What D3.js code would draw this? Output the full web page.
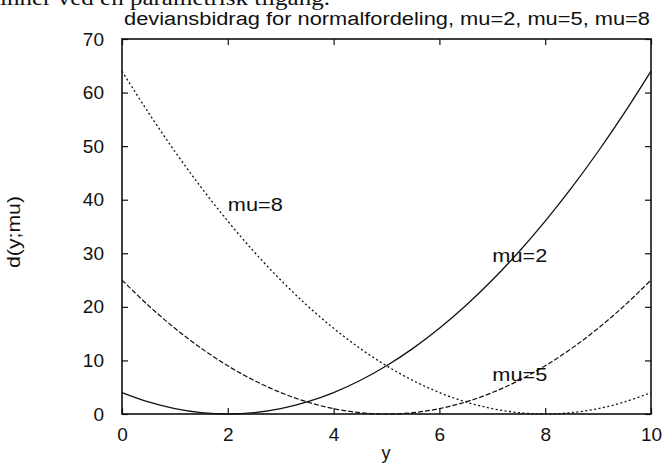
<!DOCTYPE html>
<html>
<head>
<meta charset="utf-8">
<script src="https://cdn.jsdelivr.net/npm/d3@7"></script>
<style>
  html, body { margin: 0; padding: 0; background: #fff; }
  svg { display: block; }
  text { font-family: "Liberation Sans", Arial, sans-serif; fill: #111; }
</style>
</head>
<body>
<svg id="chart" width="664" height="463"></svg>
<script>
// y values where the deviance contributions are tabulated
const yValues = [0, 0.5, 1, 1.5, 2, 2.5, 3, 3.5, 4, 4.5, 5, 5.5, 6, 6.5, 7, 7.5, 8, 8.5, 9, 9.5, 10];

// d(y;mu) for the three means
const devMu2 = [4, 2.25, 1, 0.25, 0, 0.25, 1, 2.25, 4, 6.25, 9, 12.25, 16, 20.25, 25, 30.25, 36, 42.25, 49, 56.25, 64];
const devMu5 = [25, 20.25, 16, 12.25, 9, 6.25, 4, 2.25, 1, 0.25, 0, 0.25, 1, 2.25, 4, 6.25, 9, 12.25, 16, 20.25, 25];
const devMu8 = [64, 56.25, 49, 42.25, 36, 30.25, 25, 20.25, 16, 12.25, 9, 6.25, 4, 2.25, 1, 0.25, 0, 0.25, 1, 2.25, 4];

const seriesNames = ["mu=2", "mu=5", "mu=8"];
const xTicks = [0, 2, 4, 6, 8, 10];
const yTicks = [0, 10, 20, 30, 40, 50, 60, 70];

const svg = d3.select("#chart");
const mLeft = 122, mRight = 651, mTop = 39, mBottom = 414;

const x = d3.scaleLinear().domain([0, 10]).range([mLeft, mRight]);
const y = d3.scaleLinear().domain([0, 70]).range([mBottom, mTop]);

// running text of the page above the figure, cut off by the page edge
svg.append("text")
  .attr("x", 0).attr("y", 5)
  .style("font-family", "'Liberation Serif', 'Times New Roman', serif")
  .style("font-size", "22px")
  .attr("textLength", 330).attr("lengthAdjust", "spacingAndGlyphs")
  .text("inner ved en parametrisk tilgang.");

// title
svg.append("text")
  .attr("x", 124).attr("y", 25)
  .style("font-size", "18px")
  .attr("textLength", 526).attr("lengthAdjust", "spacingAndGlyphs")
  .text("deviansbidrag for normalfordeling, mu=2, mu=5, mu=8");

// axes with inward ticks, mirrored on the opposite sides
const tickLen = 6;
svg.append("g").attr("transform", `translate(0,${mBottom})`)
  .call(d3.axisBottom(x).tickValues(xTicks).tickSize(-tickLen).tickPadding(14).tickFormat(d3.format("d")))
  .call(g => g.select(".domain").remove());
svg.append("g").attr("transform", `translate(0,${mTop})`)
  .call(d3.axisTop(x).tickValues(xTicks).tickSize(-tickLen).tickFormat(""))
  .call(g => g.select(".domain").remove());
svg.append("g").attr("transform", `translate(${mLeft},0)`)
  .call(d3.axisLeft(y).tickValues(yTicks).tickSize(-tickLen).tickPadding(18).tickFormat(d3.format("d")))
  .call(g => g.select(".domain").remove());
svg.append("g").attr("transform", `translate(${mRight},0)`)
  .call(d3.axisRight(y).tickValues(yTicks).tickSize(-tickLen).tickFormat(""))
  .call(g => g.select(".domain").remove());

svg.selectAll(".tick line").attr("stroke", "#111").attr("stroke-width", 1.2);
svg.selectAll(".tick text").style("font-size", "19px").attr("fill", "#111")
  .style("font-family", "'Liberation Sans', Arial, sans-serif");

// frame
svg.append("rect")
  .attr("x", mLeft).attr("y", mTop)
  .attr("width", mRight - mLeft).attr("height", mBottom - mTop)
  .attr("fill", "none").attr("stroke", "#111").attr("stroke-width", 1.6);

// axis titles
svg.append("text")
  .attr("x", 386).attr("y", 459)
  .attr("text-anchor", "middle")
  .style("font-size", "18px")
  .text("y");
svg.append("text")
  .attr("transform", `translate(20,232) rotate(-90)`)
  .attr("text-anchor", "middle")
  .style("font-size", "18px")
  .attr("textLength", 72).attr("lengthAdjust", "spacingAndGlyphs")
  .text("d(y;mu)");

// curves
const line = d3.line()
  .x(d => x(d[0]))
  .y(d => y(d[1]))
  .curve(d3.curveCatmullRom.alpha(0.5));

const curves = [
  { name: seriesNames[0], vals: devMu2, dash: null, width: 1.3 },
  { name: seriesNames[1], vals: devMu5, dash: "5,2", width: 1.2 },
  { name: seriesNames[2], vals: devMu8, dash: "2,2.5", width: 1.3 }
];

const plot = svg.append("g");
curves.forEach(c => {
  plot.append("path")
    .datum(yValues.map((v, i) => [v, c.vals[i]]))
    .attr("d", line)
    .attr("fill", "none")
    .attr("stroke", "#111")
    .attr("stroke-width", c.width)
    .attr("stroke-dasharray", c.dash);
});

// curve labels placed in data units
const labels = [
  { text: seriesNames[2], at: [2, 39] },
  { text: seriesNames[0], at: [7, 29.5] },
  { text: seriesNames[1], at: [7, 7.4] }
];
labels.forEach(l => {
  svg.append("text")
    .attr("x", x(l.at[0]))
    .attr("y", y(l.at[1]))
    .attr("dy", "0.35em")
    .style("font-size", "18px")
    .attr("textLength", 55).attr("lengthAdjust", "spacingAndGlyphs")
    .text(l.text);
});
</script>
</body>
</html>
